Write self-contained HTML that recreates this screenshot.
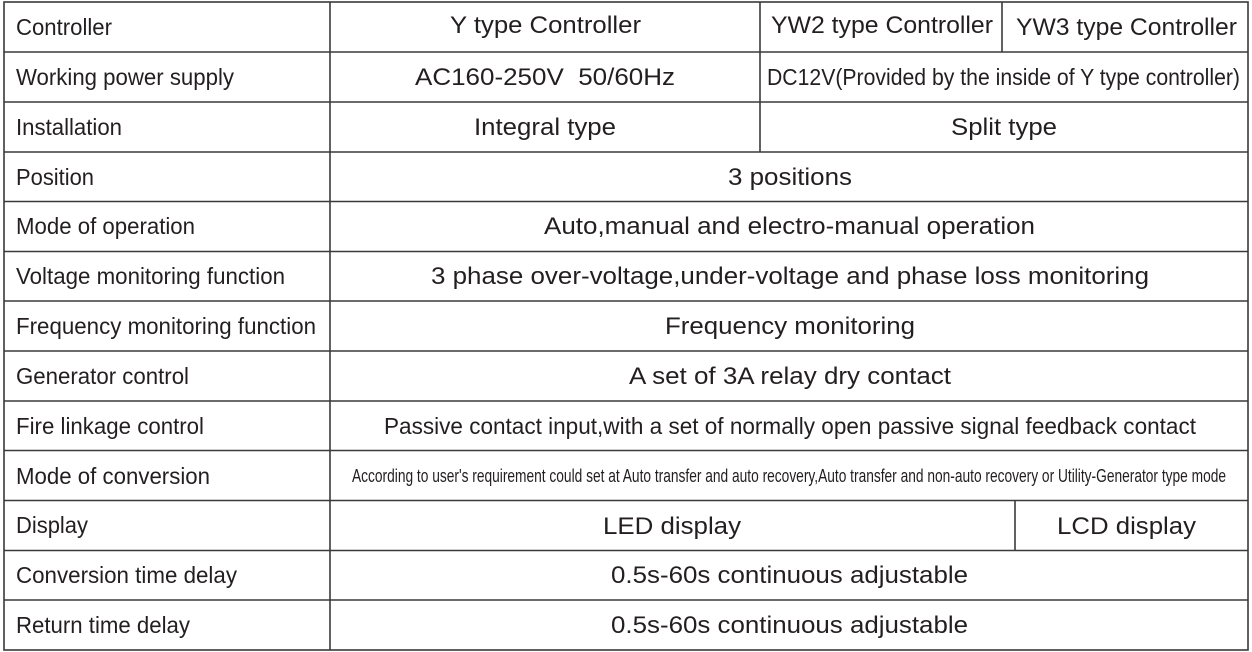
<!DOCTYPE html>
<html><head><meta charset="utf-8"><style>
html,body{margin:0;padding:0;background:#fff;}
svg{display:block;}
text{font-family:"Liberation Sans",Arial,sans-serif;fill:#231f20;}
</style></head><body>
<svg width="1252" height="652" viewBox="0 0 1252 652" xmlns="http://www.w3.org/2000/svg">
<g stroke="#3a3a3a" stroke-width="1.6" fill="none">
<rect x="4" y="2" width="1244" height="648"/>
<line x1="4" y1="52" x2="1248" y2="52"/>
<line x1="4" y1="102" x2="1248" y2="102"/>
<line x1="4" y1="152" x2="1248" y2="152"/>
<line x1="4" y1="201.5" x2="1248" y2="201.5"/>
<line x1="4" y1="251.5" x2="1248" y2="251.5"/>
<line x1="4" y1="301" x2="1248" y2="301"/>
<line x1="4" y1="351" x2="1248" y2="351"/>
<line x1="4" y1="401" x2="1248" y2="401"/>
<line x1="4" y1="450.5" x2="1248" y2="450.5"/>
<line x1="4" y1="500.5" x2="1248" y2="500.5"/>
<line x1="4" y1="550.5" x2="1248" y2="550.5"/>
<line x1="4" y1="600" x2="1248" y2="600"/>
<line x1="330" y1="2" x2="330" y2="650"/>
<line x1="760" y1="2" x2="760" y2="152"/>
<line x1="1002" y1="2" x2="1002" y2="52"/>
<line x1="1015" y1="500.5" x2="1015" y2="550.5"/>
</g>
<g font-size="23">
<text x="16" y="35" textLength="96" lengthAdjust="spacingAndGlyphs">Controller</text>
<text x="16" y="85" textLength="218" lengthAdjust="spacingAndGlyphs">Working power supply</text>
<text x="16" y="135" textLength="106" lengthAdjust="spacingAndGlyphs">Installation</text>
<text x="16" y="185" textLength="78" lengthAdjust="spacingAndGlyphs">Position</text>
<text x="16" y="234" textLength="179" lengthAdjust="spacingAndGlyphs">Mode of operation</text>
<text x="16" y="284" textLength="269" lengthAdjust="spacingAndGlyphs">Voltage monitoring function</text>
<text x="16" y="334" textLength="300" lengthAdjust="spacingAndGlyphs">Frequency monitoring function</text>
<text x="16" y="384" textLength="173" lengthAdjust="spacingAndGlyphs">Generator control</text>
<text x="16" y="434" textLength="188" lengthAdjust="spacingAndGlyphs">Fire linkage control</text>
<text x="16" y="484" textLength="194" lengthAdjust="spacingAndGlyphs">Mode of conversion</text>
<text x="16" y="533" textLength="72" lengthAdjust="spacingAndGlyphs">Display</text>
<text x="16" y="583" textLength="221" lengthAdjust="spacingAndGlyphs">Conversion time delay</text>
<text x="16" y="633" textLength="174" lengthAdjust="spacingAndGlyphs">Return time delay</text>
</g>
<g font-size="24">
<text x="450" y="33" textLength="191" lengthAdjust="spacingAndGlyphs">Y type Controller</text>
<text x="771" y="33" textLength="222" lengthAdjust="spacingAndGlyphs">YW2 type Controller</text>
<text x="1016" y="35" textLength="221" lengthAdjust="spacingAndGlyphs">YW3 type Controller</text>
<text x="415" y="85" textLength="260" lengthAdjust="spacingAndGlyphs" xml:space="preserve">AC160-250V  50/60Hz</text>
<text x="767" y="85" textLength="473" lengthAdjust="spacingAndGlyphs" font-size="23">DC12V(Provided by the inside of Y type controller)</text>
<text x="474" y="135" textLength="142" lengthAdjust="spacingAndGlyphs">Integral type</text>
<text x="951" y="135" textLength="106" lengthAdjust="spacingAndGlyphs">Split type</text>
<text x="728" y="185" textLength="124" lengthAdjust="spacingAndGlyphs">3 positions</text>
<text x="544" y="234" textLength="491" lengthAdjust="spacingAndGlyphs">Auto,manual and electro-manual operation</text>
<text x="431" y="284" textLength="718" lengthAdjust="spacingAndGlyphs">3 phase over-voltage,under-voltage and phase loss monitoring</text>
<text x="665" y="334" textLength="250" lengthAdjust="spacingAndGlyphs">Frequency monitoring</text>
<text x="629" y="384" textLength="322" lengthAdjust="spacingAndGlyphs">A set of 3A relay dry contact</text>
<text x="384" y="434" textLength="812" lengthAdjust="spacingAndGlyphs" font-size="23">Passive contact input,with a set of normally open passive signal feedback contact</text>
<text x="352" y="482" textLength="874" lengthAdjust="spacingAndGlyphs" font-size="18">According to user's requirement could set at Auto transfer and auto recovery,Auto transfer and non-auto recovery or Utility-Generator type mode</text>
<text x="603" y="534" textLength="138" lengthAdjust="spacingAndGlyphs">LED display</text>
<text x="1057" y="534" textLength="139" lengthAdjust="spacingAndGlyphs">LCD display</text>
<text x="611" y="583" textLength="357" lengthAdjust="spacingAndGlyphs">0.5s-60s continuous adjustable</text>
<text x="611" y="633" textLength="357" lengthAdjust="spacingAndGlyphs">0.5s-60s continuous adjustable</text>
</g>
</svg>
</body></html>
